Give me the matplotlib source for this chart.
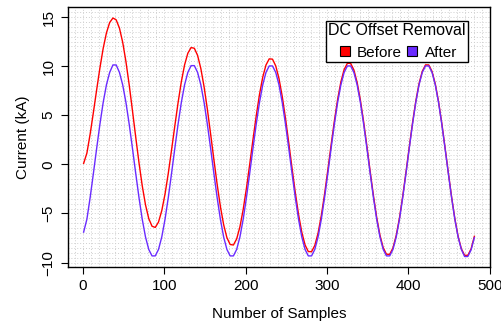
import matplotlib
matplotlib.use('Agg')
import matplotlib.pyplot as plt
from matplotlib.lines import Line2D
from matplotlib.ticker import MultipleLocator

plt.rcParams['font.family'] = ['Liberation Sans', 'DejaVu Sans']

samples = list(range(1, 482, 4))
before = [0.10, 1.14, 3.08, 5.29, 7.59, 9.81, 11.80, 13.38, 14.44, 14.90,
          14.71, 13.87, 12.42, 10.45, 8.08, 5.46, 2.77, 0.17, -2.18, -4.12,
          -5.52, -6.30, -6.42, -5.87, -4.71, -3.02, -0.91, 1.46, 3.90, 6.27,
          8.40, 10.12, 11.31, 11.89, 11.82, 11.09, 9.75, 7.88, 5.61, 3.09,
          0.49, -2.02, -4.29, -6.14, -7.46, -8.16, -8.21, -7.59, -6.36, -4.60,
          -2.43, -0.01, 2.50, 4.92, 7.10, 8.87, 10.11, 10.74, 10.71, 10.02,
          8.73, 6.90, 4.67, 2.18, -0.38, -2.86, -5.09, -6.91, -8.20, -8.88,
          -8.89, -8.25, -7.00, -5.21, -3.02, -0.57, 1.96, 4.40, 6.60, 8.39,
          9.65, 10.29, 10.28, 9.61, 8.33, 6.52, 4.31, 1.84, -0.71, -3.18,
          -5.40, -7.21, -8.48, -9.15, -9.16, -8.50, -7.24, -5.45, -3.24, -0.79,
          1.75, 4.20, 6.41, 8.20, 9.47, 10.13, 10.12, 9.46, 8.18, 6.38,
          4.17, 1.70, -0.84, -3.30, -5.52, -7.32, -8.59, -9.26, -9.26, -8.60,
          -7.33]
after = [-6.90, -5.59, -3.38, -0.92, 1.62, 4.08, 6.29, 8.09, 9.36, 10.12,
         10.12, 9.36, 8.09, 6.29, 4.08, 1.62, -0.92, -3.38, -5.59, -7.39,
         -8.66, -9.32, -9.32, -8.66, -7.39, -5.59, -3.38, -0.92, 1.62, 4.08,
         6.29, 8.09, 9.36, 10.05, 10.05, 9.36, 8.09, 6.29, 4.08, 1.62,
         -0.92, -3.38, -5.59, -7.39, -8.66, -9.32, -9.32, -8.66, -7.39, -5.59,
         -3.38, -0.92, 1.62, 4.08, 6.29, 8.09, 9.36, 10.02, 10.02, 9.36,
         8.09, 6.29, 4.08, 1.62, -0.92, -3.38, -5.59, -7.39, -8.66, -9.32,
         -9.32, -8.66, -7.39, -5.59, -3.38, -0.92, 1.62, 4.08, 6.29, 8.09,
         9.36, 10.02, 10.02, 9.36, 8.09, 6.29, 4.08, 1.62, -0.92, -3.38,
         -5.59, -7.39, -8.66, -9.32, -9.32, -8.66, -7.39, -5.59, -3.38, -0.92,
         1.62, 4.08, 6.29, 8.09, 9.36, 10.02, 10.02, 9.36, 8.09, 6.29,
         4.08, 1.62, -0.92, -3.38, -5.59, -7.39, -8.66, -9.38, -9.38, -8.70,
         -7.45]

legend_title = 'DC Offset Removal'
series_names = ['Before', 'After']
colors = ['#FF0000', '#6A2BFF']
x_ticks = [0, 100, 200, 300, 400, 500]
y_ticks = [-10, -5, 0, 5, 10, 15]

fig = plt.figure(figsize=(5.01, 3.28), dpi=100)
ax = fig.add_axes([68/501, 1 - 267/328, 422/501, 260/328])

ax.plot(samples, before, color=colors[0], lw=1.0, zorder=3)
ax.plot(samples, after, color=colors[1], lw=1.0, zorder=3)

ax.set_xlim(-18.2, 500.2)
ax.set_ylim(-10.45, 16.02)
ax.set_xticks(x_ticks)
ax.set_yticks(y_ticks)
ax.xaxis.set_minor_locator(MultipleLocator(10))
ax.yaxis.set_minor_locator(MultipleLocator(0.5))
ax.grid(which='both', color='#CFCFCF', linestyle=(0, (1, 2)), linewidth=0.7, zorder=0)
ax.tick_params(which='minor', length=0)
ax.tick_params(which='major', direction='out', length=5, width=0.8,
               labelsize=11, pad=4, color='black')
ax.tick_params(axis='y', labelrotation=90)
for lab in ax.get_yticklabels():
    lab.set_va('center')

for s in ax.spines.values():
    s.set_linewidth(1)
    s.set_color('black')

ax.set_xlabel('Number of Samples', fontsize=11, labelpad=10)
ax.set_ylabel('Current (kA)', fontsize=11, labelpad=8)

handles = [Line2D([], [], marker='s', linestyle='none', markerfacecolor=c,
                  markeredgecolor='black', markersize=7, markeredgewidth=0.8)
           for c in colors]
leg = ax.legend(handles, series_names, title=legend_title, ncol=2,
                loc='upper right', bbox_to_anchor=(0.948, 0.947),
                frameon=True, fancybox=False, edgecolor='black', framealpha=1,
                fontsize=11, title_fontsize=11.5, borderpad=0.15,
                handletextpad=0.3, columnspacing=0.2, handlelength=1.0,
                borderaxespad=0)
leg.get_frame().set_linewidth(1)
leg.set_zorder(5)

fig.savefig('out.png', dpi=100)
